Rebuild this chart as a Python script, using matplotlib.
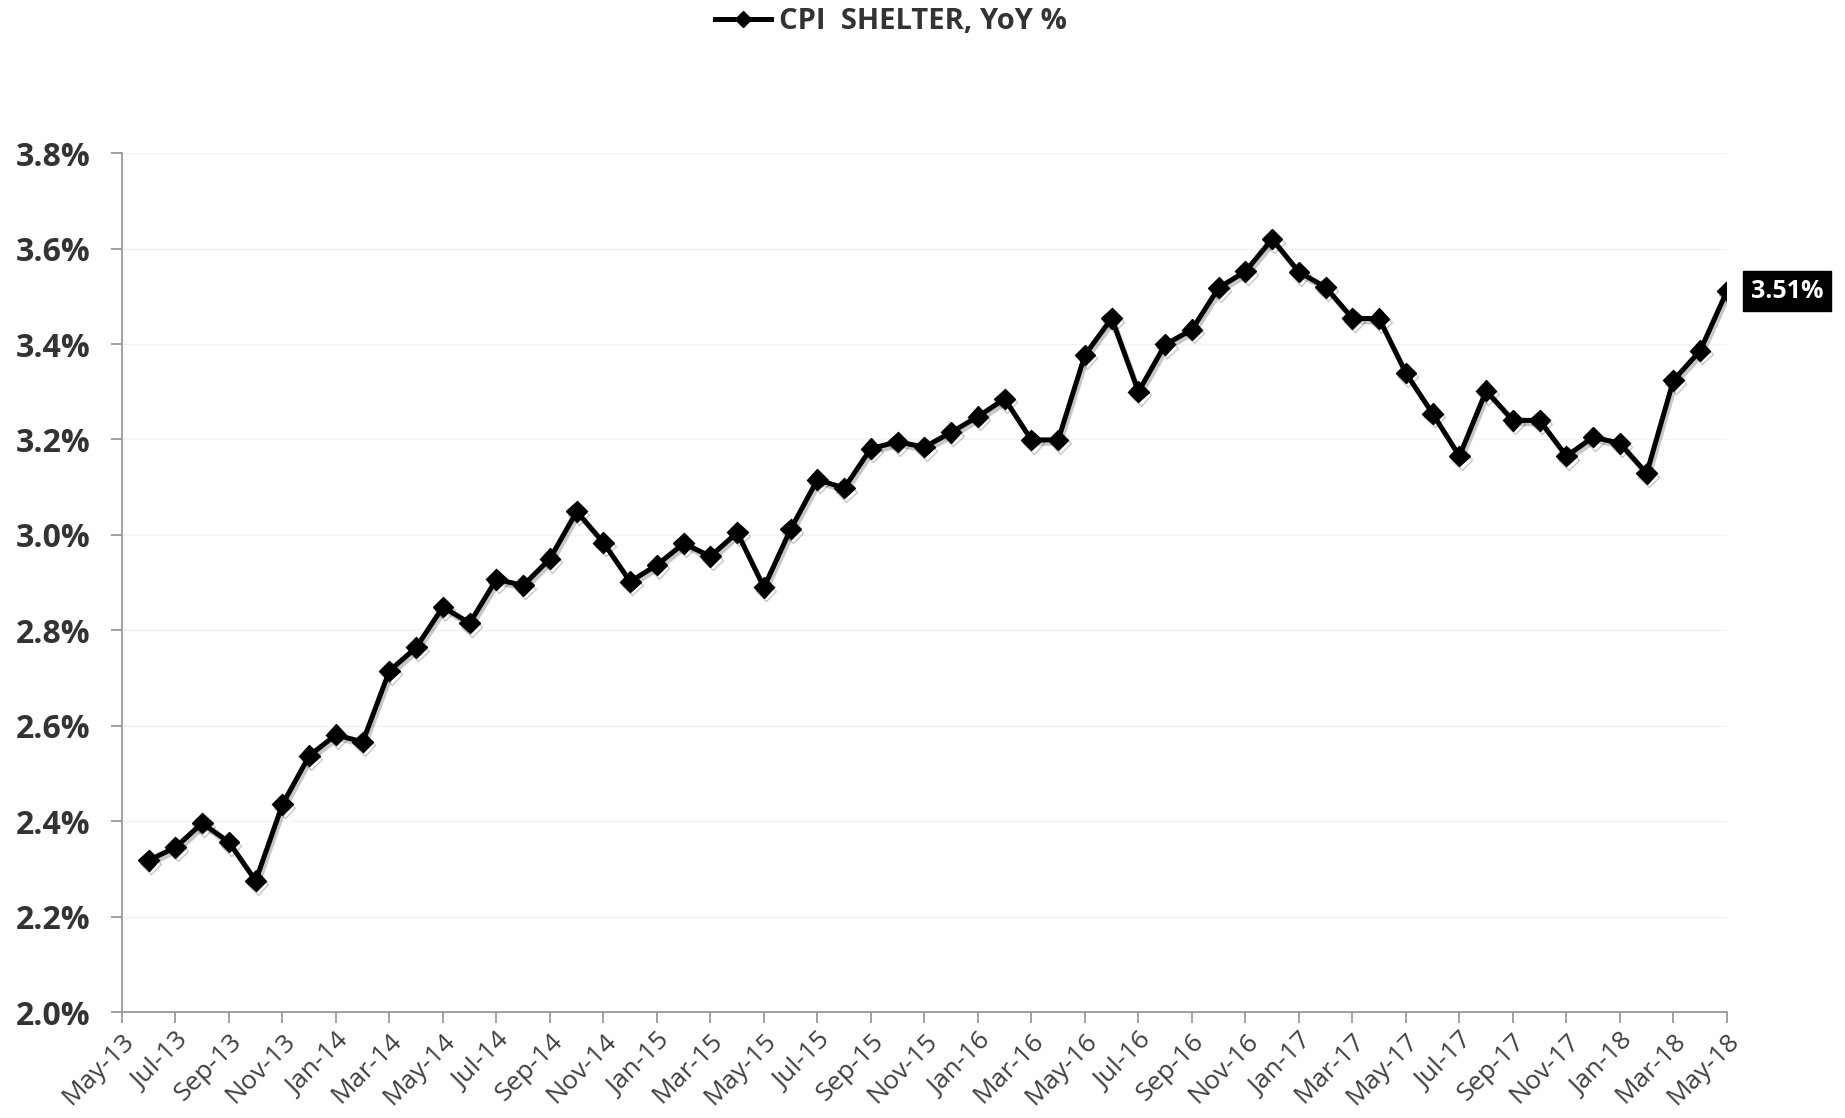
import matplotlib
matplotlib.use("Agg")
import matplotlib.pyplot as plt
import matplotlib.patheffects as pe
from matplotlib.lines import Line2D
import numpy as np

plt.rcParams['font.family'] = ['Open Sans', 'DejaVu Sans']

# Monthly data, Jun-13 .. May-18
months = ["Jun-13", "Jul-13", "Aug-13", "Sep-13", "Oct-13", "Nov-13", "Dec-13",
          "Jan-14", "Feb-14", "Mar-14", "Apr-14", "May-14", "Jun-14", "Jul-14",
          "Aug-14", "Sep-14", "Oct-14", "Nov-14", "Dec-14",
          "Jan-15", "Feb-15", "Mar-15", "Apr-15", "May-15", "Jun-15", "Jul-15",
          "Aug-15", "Sep-15", "Oct-15", "Nov-15", "Dec-15",
          "Jan-16", "Feb-16", "Mar-16", "Apr-16", "May-16", "Jun-16", "Jul-16",
          "Aug-16", "Sep-16", "Oct-16", "Nov-16", "Dec-16",
          "Jan-17", "Feb-17", "Mar-17", "Apr-17", "May-17", "Jun-17", "Jul-17",
          "Aug-17", "Sep-17", "Oct-17", "Nov-17", "Dec-17",
          "Jan-18", "Feb-18", "Mar-18", "Apr-18", "May-18"]
shelter_yoy = [2.318, 2.345, 2.396, 2.356, 2.275, 2.435, 2.537,
               2.581, 2.566, 2.715, 2.764, 2.849, 2.815, 2.907,
               2.894, 2.950, 3.049, 2.984, 2.902,
               2.937, 2.982, 2.955, 3.005, 2.890, 3.012, 3.116,
               3.098, 3.181, 3.195, 3.184, 3.215,
               3.248, 3.285, 3.199, 3.199, 3.377, 3.454, 3.300,
               3.399, 3.430, 3.518, 3.552, 3.620,
               3.551, 3.519, 3.454, 3.453, 3.339, 3.254, 3.165,
               3.302, 3.240, 3.240, 3.165, 3.205,
               3.192, 3.129, 3.324, 3.386, 3.511]
tick_labels = ["May-13", "Jul-13", "Sep-13", "Nov-13", "Jan-14", "Mar-14", "May-14",
               "Jul-14", "Sep-14", "Nov-14", "Jan-15", "Mar-15", "May-15", "Jul-15",
               "Sep-15", "Nov-15", "Jan-16", "Mar-16", "May-16", "Jul-16", "Sep-16",
               "Nov-16", "Jan-17", "Mar-17", "May-17", "Jul-17", "Sep-17", "Nov-17",
               "Jan-18", "Mar-18", "May-18"]
y_ticks = [2.0, 2.2, 2.4, 2.6, 2.8, 3.0, 3.2, 3.4, 3.6, 3.8]
series_name = "CPI  SHELTER, YoY %"

fig = plt.figure(figsize=(18.45, 11.18), dpi=100)
ax = fig.add_axes([0.0661, 0.0948, 0.8699, 0.7682])

x = np.arange(1, len(shelter_yoy) + 1)
line, = ax.plot(x, shelter_yoy, color='black', lw=3.6, marker='D', markersize=10.5,
                markerfacecolor='black', markeredgecolor='black', zorder=3)
line.set_path_effects([pe.SimpleLineShadow(offset=(1.5, -2.5), shadow_color='black', alpha=0.22),
                       pe.Normal()])

ax.set_xlim(0, len(shelter_yoy))
ax.set_ylim(2.0, 3.8)
ax.set_xticks(np.arange(0, len(shelter_yoy) + 1, 2))
ax.set_xticklabels(tick_labels, rotation=45, ha='right', rotation_mode='anchor',
                   fontsize=19, color='#404040')
ax.set_yticks(y_ticks)
ax.set_yticklabels([f"{v:.1f}%" for v in y_ticks], fontsize=23, fontweight='bold',
                   color='#333333')

ax.grid(axis='y', color='#f2f2f2', lw=1)
ax.set_axisbelow(True)
for s in ['top', 'right']:
    ax.spines[s].set_visible(False)
for s in ['left', 'bottom']:
    ax.spines[s].set_color('#999999')
    ax.spines[s].set_linewidth(1.3)
ax.tick_params(axis='both', colors='#999999', length=8, width=1.3, direction='out')
ax.tick_params(axis='x', labelcolor='#404040', pad=4)
ax.tick_params(axis='y', labelcolor='#333333', pad=15)

ax.annotate(f"{shelter_yoy[-1]:.2f}%", xy=(x[-1], shelter_yoy[-1]), xytext=(17, 0),
            textcoords='offset points', ha='left', va='center', fontsize=18,
            fontweight='bold', color='white', annotation_clip=False,
            bbox=dict(boxstyle='square,pad=0.3', fc='black', ec='black'))

handle = Line2D([], [], color='black', lw=3.6, marker='D', markersize=8)
fig.legend([handle], [series_name], loc='center', bbox_to_anchor=(0.483, 0.981),
           frameon=False, handlelength=1.9, handletextpad=0.3,
           prop={'weight': 'bold', 'size': 21}, labelcolor='#333333')

fig.savefig("out.png", dpi=100)
